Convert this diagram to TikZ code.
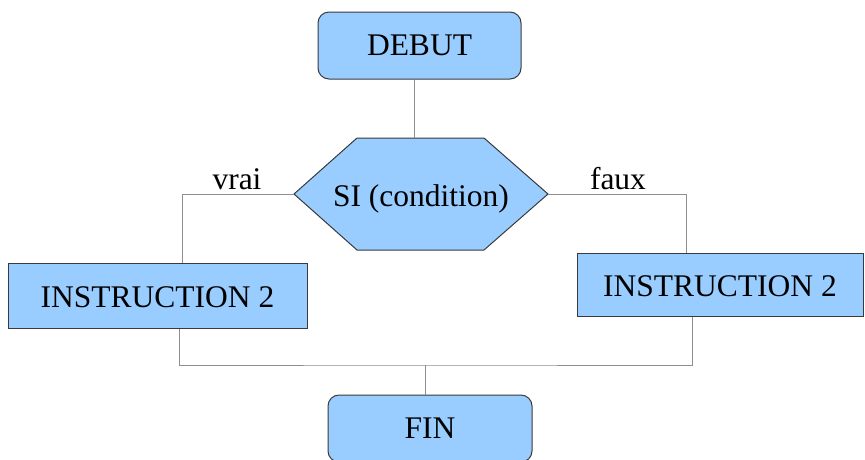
\documentclass[tikz,border=0pt]{standalone}
\usepackage{fontspec}
\setmainfont{Liberation Serif}
\usetikzlibrary{calc,positioning}

\definecolor{boxblue}{HTML}{99CCFF}
\definecolor{boxline}{HTML}{3A3A3A}
\definecolor{linkgray}{HTML}{8E8E8E}

\begin{document}
\begin{tikzpicture}[x=1pt,y=-1pt,
start/.style={rectangle, rounded corners=11pt, draw=boxline, fill=boxblue, line width=1pt, minimum width=203pt, minimum height=67pt, inner sep=0pt},
instr/.style={rectangle, draw=boxline, fill=boxblue, line width=1pt, inner sep=0pt, text height=25pt},
cond/.style={draw=boxline, fill=boxblue, line width=1pt},
link/.style={draw=linkgray, line width=1pt},
info/.style={draw=none,fill=none,inner sep=0pt},
every node/.style={font=\fontsize{31.5}{36}\selectfont}]

%% frame of the picture
\useasboundingbox (0,0) rectangle (865,459);

%% local variables
\def \hexy {194}

%% start and end
\node[start] (debut) at (419.5,45.5) {DEBUT};
\node[start, minimum width=204pt] (fin) at (430,428.5) {FIN};

%% the condition
\coordinate (hexL) at (294,\hexy);
\coordinate (hexR) at (548,\hexy);
\coordinate (hexT) at (414,138);
\draw[cond] (hexL) -- (357,138) -- (484,138) -- (hexR) -- (484,250) -- (357,250) -- cycle;
\node[info] (si) at (421,199) {SI (condition)};

%% both branches
\node[instr, minimum width=299pt, minimum height=65pt] (instrG) at (157.5,295.5) {INSTRUCTION 2};
\node[instr, minimum width=286pt, minimum height=63pt] (instrD) at (720,284.5) {INSTRUCTION 2};

\node[info] (vrai) at (237,179) {vrai};
\node[info] (faux) at (618,179) {faux};

%% place all links
\coordinate (merge) at (425,365);
\draw[link] (debut.south -| hexT) -- (hexT);
\draw[link] (hexL) -| ([xshift=24.5pt]instrG.north);
\draw[link] (hexR) -| ([xshift=-34pt]instrD.north);
\draw[link] ([xshift=21.5pt]instrG.south) |- (merge) -| ([xshift=-28pt]instrD.south);
\draw[link] (merge) -- (fin.north -| merge);

\end{tikzpicture}
\end{document}
